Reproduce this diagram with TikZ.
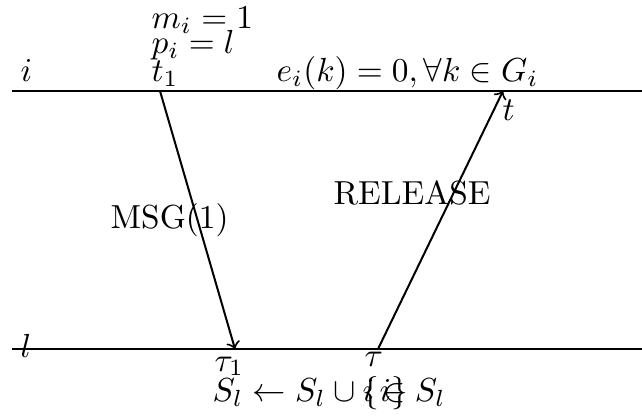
\documentclass[tikz,border=0pt]{standalone}
\usepackage{amssymb}
\begin{document}
\begin{tikzpicture}[x=0.3pt,y=-0.3pt,
  proc/.style={line width=0.6pt},
  msg/.style={line width=0.6pt,->},
  lbl/.style={inner sep=0pt}]
\useasboundingbox (0,0) rectangle (642,418);
% process lines
\coordinate (iL) at (12,91);
\coordinate (iR) at (642,91);
\coordinate (lL) at (12,349);
\coordinate (lR) at (642,349);
\draw[proc] (iL) -- (iR);
\draw[proc] (lL) -- (lR);
% events
\coordinate (t1) at (160,91);
\coordinate (tau1) at (235,349);
\coordinate (tau) at (378,349);
\coordinate (t) at (503,91);
\draw[msg] (t1) -- (tau1);
\draw[msg] (tau) -- (t);
% labels
\node[lbl,anchor=base west] (li) at (20,82) {$i$};
\node[lbl,anchor=base west] (ll) at (20,358) {$l$};
\node[lbl,anchor=base west] (lt1) at (151,82) {$t_1$};
\node[lbl,anchor=base west] (lpi) at (151,54) {$p_i = l$};
\node[lbl,anchor=base west] (lmi) at (151,29) {$m_i = 1$};
\node[lbl,anchor=base west] (le) at (276,82) {$e_i(k) = 0, \forall k \in G_i$};
\node[lbl,anchor=base west] (lt) at (502,121) {$t$};
\node[lbl,anchor=base west] (ltau1) at (214,371) {$\tau_1$};
\node[lbl,anchor=base west] (ltau) at (364,367) {$\tau$};
\node[lbl,anchor=base west] (ls1) at (212,402) {$S_l \leftarrow S_l \cup \{i\}$};
\node[lbl,anchor=base west] (ls2) at (362,402) {$i \in S_l$};
\node[lbl,anchor=base west] (lmsg) at (110,229) {MSG(1)};
\node[lbl,anchor=base west] (lrel) at (333,205) {RELEASE};
\end{tikzpicture}
\end{document}
